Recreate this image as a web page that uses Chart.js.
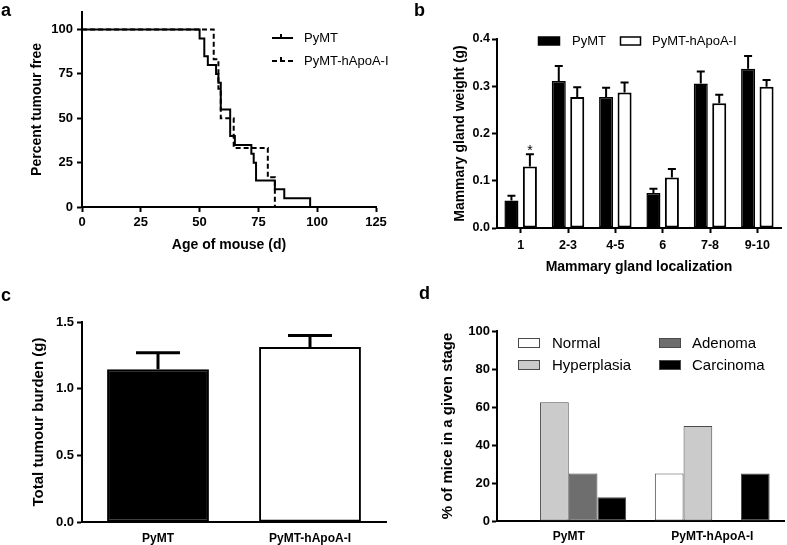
<!DOCTYPE html>
<html><head><meta charset="utf-8">
<script src="https://cdn.jsdelivr.net/npm/chart.js@4"></script>
<style>
html,body{margin:0;padding:0;background:#fff;}
#wrap{position:relative;width:787px;height:545px;overflow:hidden;background:#fff;}
canvas{position:absolute;left:0;top:0;}
.lbl{position:absolute;font:bold 18px 'Liberation Sans',Arial,sans-serif;color:#000;line-height:18px;}
</style></head><body>
<div id="wrap">
<canvas id="ca" width="787" height="545"></canvas>
<canvas id="cb" width="787" height="545"></canvas>
<canvas id="cc" width="787" height="545"></canvas>
<canvas id="cd" width="787" height="545"></canvas>
<div class="lbl" style="left:1px;top:1px">a</div>
<div class="lbl" style="left:414px;top:1px">b</div>
<div class="lbl" style="left:1px;top:286px">c</div>
<div class="lbl" style="left:419px;top:284px">d</div>
</div>
<script>
// ---------- DATA ----------
// a: Kaplan-Meier
const kmDaysPyMT = [0, 50, 52, 53.5, 57, 58, 59, 63, 65, 72, 73, 74, 82, 86, 97];
const kmPctPyMT  = [100, 95, 85, 80, 75, 70, 55, 40, 35, 30, 25, 15, 10, 5, 0];
const kmDaysApoA = [0, 56, 58, 59, 64.5, 79, 82];
const kmPctApoA  = [100, 83.3, 66.7, 50, 33.3, 16.7, 0];
const kmXTicks = [0, 25, 50, 75, 100, 125];
const kmYTicks = [0, 25, 50, 75, 100];
const seriesNames = ['PyMT', 'PyMT-hApoA-I'];

// b: mammary gland weight
const glandCategories = ['1', '2-3', '4-5', '6', '7-8', '9-10'];
const glandPyMT     = [0.058, 0.311, 0.277, 0.074, 0.306, 0.337];
const glandPyMTErr  = [0.010, 0.032, 0.020, 0.009, 0.025, 0.027];
const glandApoA     = [0.130, 0.277, 0.287, 0.107, 0.264, 0.299];
const glandApoAErr  = [0.026, 0.021, 0.021, 0.018, 0.018, 0.014];
const glandApoAMarks = ['*', '', '', '', '', ''];
const glandYTicks = [0, 0.1, 0.2, 0.3, 0.4];

// c: total tumour burden
const burdenGroups = ['PyMT', 'PyMT-hApoA-I'];
const burdenMeans = [1.145, 1.312];
const burdenErr   = [0.125, 0.087];
const burdenYTicks = [0, 0.5, 1.0, 1.5];

// d: stages
const stageGroups = ['PyMT', 'PyMT-hApoA-I'];
const stageNames = ['Normal', 'Hyperplasia', 'Adenoma', 'Carcinoma'];
const stageNormal    = [0, 25];
const stageHyper     = [62.5, 50];
const stageAdenoma   = [25, 0];
const stageCarcinoma = [12.5, 25];
const stageYTicks = [0, 20, 40, 60, 80, 100];

// ---------- HELPERS ----------
const FF = "'Liberation Sans', Arial, Helvetica, sans-serif";
Chart.defaults.font.family = FF;
Chart.defaults.color = '#000';
Chart.defaults.animation = false;
Chart.defaults.plugins.legend.display = false;
Chart.defaults.plugins.tooltip.enabled = false;

function frame(area, yT, xT) {
  const yLeft = yT.x - 10;
  const yW = area.l - yLeft;
  const yPad = 10 - yT.size * 0.6;
  let xBottom, xPad = 0;
  if (xT.y) { xBottom = xT.y + 10; xPad = 10 - xT.size * 0.6; }
  else { xBottom = area.b + xT.h; }
  return {
    padding: {left: yLeft, top: area.t, right: 787 - area.r, bottom: 545 - xBottom},
    yW, yPad, xH: xBottom - area.b, xPad
  };
}
function fixedTicks(vals) { return s => { s.ticks = vals.map(v => ({value: v})); }; }
const axisBorder = {display: true, color: '#000', width: 2};
function tickGrid(len) {
  return {display: true, drawOnChartArea: false, drawTicks: len > 0, tickLength: len, tickWidth: 2, tickColor: '#000', color: '#000'};
}

const errorBars = {
  id: 'errorBars',
  afterDatasetsDraw(chart, args, opts) {
    const ctx = chart.ctx, ys = chart.scales.y;
    chart.data.datasets.forEach((ds, i) => {
      if (!ds.errorValues) return;
      const meta = chart.getDatasetMeta(i);
      meta.data.forEach((el, j) => {
        const v = ds.data[j], e = ds.errorValues[j];
        const top = ys.getPixelForValue(v + e);
        ctx.save();
        ctx.strokeStyle = '#000';
        ctx.lineWidth = opts.lineWidth;
        ctx.beginPath();
        ctx.moveTo(el.x, el.y);
        ctx.lineTo(el.x, top);
        ctx.moveTo(el.x - opts.cap / 2, top);
        ctx.lineTo(el.x + opts.cap / 2, top);
        ctx.stroke();
        if (ds.marks && ds.marks[j]) {
          ctx.fillStyle = '#000';
          ctx.font = '14px ' + FF;
          ctx.textAlign = 'center';
          ctx.textBaseline = 'alphabetic';
          ctx.fillText(ds.marks[j], el.x, top + 1);
        }
        ctx.restore();
      });
    });
  }
};

function boxLegend(items, fontSize) {
  return {
    id: 'boxLegend',
    afterDraw(chart) {
      const ctx = chart.ctx;
      ctx.save();
      items.forEach(it => {
        const ds = chart.data.datasets[it.ds];
        ctx.fillStyle = it.fill;
        ctx.fillRect(it.bx, it.by, it.bw, it.bh);
        ctx.strokeStyle = it.stroke;
        ctx.lineWidth = it.lw;
        ctx.strokeRect(it.bx, it.by, it.bw, it.bh);
        ctx.fillStyle = '#000';
        ctx.font = fontSize + 'px ' + FF;
        ctx.textBaseline = 'middle';
        ctx.textAlign = 'left';
        ctx.fillText(ds.label, it.tx, it.by + it.bh / 2 + 0.5);
      });
      ctx.restore();
    }
  };
}

// ---------- PANEL A ----------
(function () {
  const f = frame({l: 82, r: 376, t: 11, b: 207}, {x: 37, size: 14}, {y: 245, size: 14});
  const kmLegend = {
    id: 'kmLegend',
    afterDraw(chart) {
      const ctx = chart.ctx;
      ctx.save();
      chart.data.datasets.forEach((ds, i) => {
        const y = 38 + i * 23;
        ctx.strokeStyle = '#000';
        ctx.lineWidth = 2;
        ctx.setLineDash(ds.borderDash || []);
        ctx.beginPath(); ctx.moveTo(272, y); ctx.lineTo(293, y); ctx.stroke();
        ctx.setLineDash([]);
        ctx.beginPath(); ctx.moveTo(281, y); ctx.lineTo(281, y - 4); ctx.stroke();
        ctx.fillStyle = '#000';
        ctx.font = '13px ' + FF;
        ctx.textBaseline = 'middle';
        ctx.fillText(ds.label, 304, y);
      });
      ctx.restore();
    }
  };
  new Chart(document.getElementById('ca'), {
    type: 'scatter',
    data: {
      datasets: [
        {label: seriesNames[0], data: kmDaysPyMT.map((x, i) => ({x, y: kmPctPyMT[i]})),
         showLine: true, stepped: 'before', borderColor: '#000', borderWidth: 2, pointRadius: 0, fill: false},
        {label: seriesNames[1], data: kmDaysApoA.map((x, i) => ({x, y: kmPctApoA[i]})),
         showLine: true, stepped: 'before', borderColor: '#000', borderWidth: 2, borderDash: [5, 3], pointRadius: 0, fill: false}
      ]
    },
    options: {
      responsive: false, devicePixelRatio: 1,
      layout: {padding: f.padding},
      scales: {
        x: {type: 'linear', min: 0, max: 125,
            afterBuildTicks: fixedTicks(kmXTicks),
            afterFit: s => { s.height = f.xH; },
            grid: tickGrid(5), border: axisBorder,
            ticks: {font: {size: 13, weight: 'bold'}, color: '#000', padding: 3, maxRotation: 0},
            title: {display: true, text: 'Age of mouse (d)', font: {size: 14, weight: 'bold'}, color: '#000', padding: {top: 0, bottom: f.xPad}}},
        y: {type: 'linear', min: 0, max: 110,
            afterBuildTicks: fixedTicks(kmYTicks),
            afterFit: s => { s.width = f.yW; },
            grid: tickGrid(5), border: axisBorder,
            ticks: {font: {size: 13, weight: 'bold'}, color: '#000', padding: 4},
            title: {display: true, text: 'Percent tumour free', font: {size: 14, weight: 'bold'}, color: '#000', padding: {top: f.yPad, bottom: 0}}}
      }
    },
    plugins: [kmLegend]
  });
})();

// ---------- PANEL B ----------
(function () {
  const f = frame({l: 497, r: 781, t: 39, b: 228}, {x: 460, size: 14}, {y: 267, size: 14});
  new Chart(document.getElementById('cb'), {
    type: 'bar',
    data: {
      labels: glandCategories,
      datasets: [
        {label: seriesNames[0], data: glandPyMT, errorValues: glandPyMTErr,
         backgroundColor: '#000', borderColor: '#000', borderWidth: 1.5, borderSkipped: false},
        {label: seriesNames[1], data: glandApoA, errorValues: glandApoAErr, marks: glandApoAMarks,
         backgroundColor: '#fff', borderColor: '#000', borderWidth: 2, borderSkipped: false}
      ]
    },
    options: {
      responsive: false, devicePixelRatio: 1,
      layout: {padding: f.padding},
      categoryPercentage: 0.78, barPercentage: 0.76,
      plugins: {errorBars: {lineWidth: 2, cap: 8}},
      scales: {
        x: {type: 'category', offset: true,
            afterFit: s => { s.height = f.xH; },
            grid: Object.assign(tickGrid(5), {offset: false}), border: axisBorder,
            ticks: {font: {size: 12.5, weight: 'bold'}, color: '#000', padding: 5, autoSkip: false, maxRotation: 0},
            title: {display: true, text: 'Mammary gland localization', font: {size: 14, weight: 'bold'}, color: '#000', padding: {top: 0, bottom: f.xPad}}},
        y: {type: 'linear', min: 0, max: 0.4,
            afterBuildTicks: fixedTicks(glandYTicks),
            afterFit: s => { s.width = f.yW; },
            grid: tickGrid(5), border: axisBorder,
            ticks: {font: {size: 12.5, weight: 'bold'}, color: '#000', padding: 2, callback: v => Number(v).toFixed(1)},
            title: {display: true, text: 'Mammary gland weight (g)', font: {size: 14, weight: 'bold'}, color: '#000', padding: {top: f.yPad, bottom: 0}}}
      }
    },
    plugins: [errorBars, boxLegend([
      {ds: 0, bx: 538.5, by: 37, bw: 21, bh: 8, fill: '#000', stroke: '#000', lw: 1.5, tx: 572},
      {ds: 1, bx: 620.5, by: 37, bw: 20, bh: 8, fill: '#fff', stroke: '#000', lw: 1.5, tx: 652}
    ], 13)]
  });
})();

// ---------- PANEL C ----------
(function () {
  const f = frame({l: 82, r: 386, t: 322, b: 522}, {x: 39, size: 15}, {h: 23});
  new Chart(document.getElementById('cc'), {
    type: 'bar',
    data: {
      labels: burdenGroups,
      datasets: [
        {label: 'Total tumour burden', data: burdenMeans, errorValues: burdenErr,
         backgroundColor: ['#000', '#fff'], borderColor: '#000', borderWidth: 2, borderSkipped: false}
      ]
    },
    options: {
      responsive: false, devicePixelRatio: 1,
      layout: {padding: f.padding},
      categoryPercentage: 1, barPercentage: 0.67,
      plugins: {errorBars: {lineWidth: 3, cap: 44}},
      scales: {
        x: {type: 'category', offset: true,
            afterFit: s => { s.height = f.xH; },
            grid: tickGrid(0), border: axisBorder,
            ticks: {font: {size: 12, weight: 'bold'}, color: '#000', padding: 9, autoSkip: false, maxRotation: 0}},
        y: {type: 'linear', min: 0, max: 1.5,
            afterBuildTicks: fixedTicks(burdenYTicks),
            afterFit: s => { s.width = f.yW; },
            grid: tickGrid(5), border: axisBorder,
            ticks: {font: {size: 13, weight: 'bold'}, color: '#000', padding: 3, callback: v => Number(v).toFixed(1)},
            title: {display: true, text: 'Total tumour burden (g)', font: {size: 15, weight: 'bold'}, color: '#000', padding: {top: f.yPad, bottom: 0}}}
      }
    },
    plugins: [errorBars]
  });
})();

// ---------- PANEL D ----------
(function () {
  const f = frame({l: 497, r: 784, t: 331, b: 521}, {x: 448, size: 15}, {h: 24});
  const stageFill = ['#ffffff', '#cbcbcb', '#6e6e6e', '#000000'];
  const stageData = [stageNormal, stageHyper, stageAdenoma, stageCarcinoma];
  const bw = c => (c.raw === 0 ? 0 : 1);
  new Chart(document.getElementById('cd'), {
    type: 'bar',
    data: {
      labels: stageGroups,
      datasets: stageNames.map((n, i) => ({
        label: n, data: stageData[i], backgroundColor: stageFill[i],
        borderColor: '#4a4a4a', borderWidth: bw, borderSkipped: false
      }))
    },
    options: {
      responsive: false, devicePixelRatio: 1,
      layout: {padding: f.padding},
      categoryPercentage: 0.8, barPercentage: 1.0,
      scales: {
        x: {type: 'category', offset: true,
            afterFit: s => { s.height = f.xH; },
            grid: tickGrid(0), border: axisBorder,
            ticks: {font: {size: 12, weight: 'bold'}, color: '#000', padding: 8, autoSkip: false, maxRotation: 0}},
        y: {type: 'linear', min: 0, max: 100,
            afterBuildTicks: fixedTicks(stageYTicks),
            afterFit: s => { s.width = f.yW; },
            grid: tickGrid(5), border: axisBorder,
            ticks: {font: {size: 13, weight: 'bold'}, color: '#000', padding: 2},
            title: {display: true, text: '% of mice in a given stage', font: {size: 15, weight: 'bold'}, color: '#000', padding: {top: f.yPad, bottom: 0}}}
      }
    },
    plugins: [boxLegend([
      {ds: 0, bx: 518.5, by: 338.5, bw: 21, bh: 9, fill: stageFill[0], stroke: '#4a4a4a', lw: 1, tx: 552},
      {ds: 1, bx: 518.5, by: 360.5, bw: 21, bh: 9, fill: stageFill[1], stroke: '#4a4a4a', lw: 1, tx: 552},
      {ds: 2, bx: 659.5, by: 338.5, bw: 21, bh: 9, fill: stageFill[2], stroke: '#4a4a4a', lw: 1, tx: 692},
      {ds: 3, bx: 659.5, by: 360.5, bw: 21, bh: 9, fill: stageFill[3], stroke: '#4a4a4a', lw: 1, tx: 692}
    ], 15)]
  });
})();
</script>
</body></html>
